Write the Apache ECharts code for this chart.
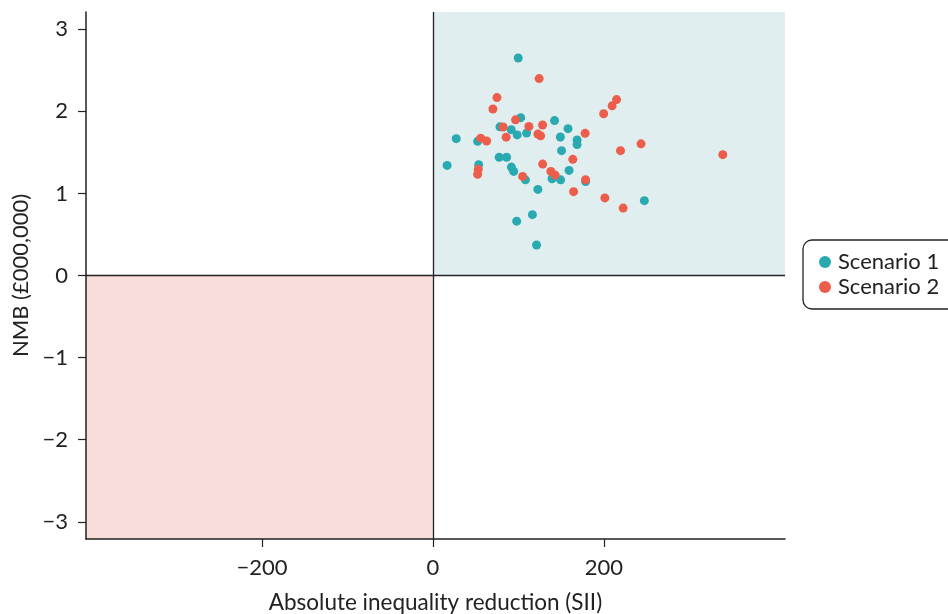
<!DOCTYPE html>
<html><head><meta charset="utf-8">
<script src="https://cdn.jsdelivr.net/npm/echarts@6/dist/echarts.min.js"></script>
<style>html,body{margin:0;padding:0;background:#fff}#c{width:948px;height:614px}</style>
</head><body><div id="c"></div>
<script>
// Scenario 1: [absolute inequality reduction (SII), NMB (£000,000)]
const scenario1 = [
 [99.8,2.65],[27.3,1.667],[16.6,1.341],[52.3,1.634],[53.5,1.35],[78.4,1.811],
 [91.6,1.777],[98.6,1.713],[102.7,1.923],[109.6,1.735],[142.3,1.887],[158.1,1.789],
 [149.1,1.687],[168.7,1.65],[168.7,1.595],[150.5,1.521],[77.5,1.441],[86.2,1.441],
 [91.8,1.321],[94.5,1.268],[108.2,1.165],[122.8,1.049],[139.4,1.179],[149.4,1.165],
 [159.3,1.28],[178.7,1.144],[116.4,0.741],[98.0,0.662],[121.3,0.372],[247.4,0.912]
];
// Scenario 2
const scenario2 = [
 [124.3,2.399],[74.9,2.167],[70.2,2.028],[96.7,1.896],[82.2,1.809],[112.3,1.815],
 [128.3,1.833],[85.7,1.685],[55.9,1.673],[62.8,1.638],[122.8,1.723],[126.0,1.701],
 [178.1,1.732],[199.8,1.970],[209.7,2.067],[214.9,2.143],[243.5,1.604],[219.5,1.521],
 [339.2,1.472],[163.7,1.415],[178.6,1.167],[164.6,1.021],[201.2,0.945],[222.6,0.821],
 [53.0,1.293],[52.3,1.232],[128.4,1.357],[138.0,1.268],[143.0,1.223],[105.0,1.207]
];
const seriesNames = ['Scenario 1','Scenario 2'];
const xRange = [-406, 412];
const yRange = [-3.21, 3.21];
const xTicks = [-200, 0, 200];
const yTicks = [-3,-2,-1,0,1,2,3];
const xTitle = 'Absolute inequality reduction (SII)';
const yTitle = 'NMB (£000,000)';

const FONT = 'Lato';
const FS = 22;
const TXT = '#222';
const minus = v => String(v).replace('-', '\u2212');

const chart = echarts.init(document.getElementById('c'), null, {renderer:'canvas'});
chart.setOption({
  animation:false,
  grid:{left:86,right:163,top:12,bottom:75,containLabel:false,outerBoundsMode:'none'},
  legend:{
    data:seriesNames, orient:'vertical', left:803, top:240,
    icon:'circle', itemWidth:12, itemHeight:12, itemGap:3,
    padding:[11,20,11,16],
    borderColor:'#222', borderWidth:1.3, borderRadius:9,
    textStyle:{fontFamily:FONT,fontSize:FS,color:TXT,padding:[0,0,0,2]}
  },
  xAxis:{
    type:'value', min:xRange[0], max:xRange[1],
    name:xTitle, nameLocation:'middle', nameGap:52,
    nameTextStyle:{fontFamily:FONT,fontSize:22.5,color:TXT},
    splitLine:{show:false},
    axisLine:{onZero:false,lineStyle:{color:'#222',width:1.5}},
    axisTick:{show:true,length:8,lineStyle:{color:'#222',width:1.2},customValues:xTicks},
    axisLabel:{fontFamily:FONT,fontSize:FS,color:TXT,margin:18,customValues:xTicks,formatter:minus}
  },
  yAxis:{
    type:'value', min:yRange[0], max:yRange[1],
    name:yTitle, nameLocation:'middle', nameGap:54,
    nameTextStyle:{fontFamily:FONT,fontSize:FS,color:TXT},
    splitLine:{show:false},
    axisLine:{show:true,onZero:false,lineStyle:{color:'#222',width:1.5}},
    axisTick:{show:true,length:8,lineStyle:{color:'#222',width:1.2},customValues:yTicks},
    axisLabel:{fontFamily:FONT,fontSize:FS,color:TXT,margin:18,customValues:yTicks,formatter:minus}
  },
  series:[
    {
      name:seriesNames[0], type:'scatter', data:scenario1, symbolSize:9,
      itemStyle:{color:'#29a9b0',opacity:1}, z:3,
      markArea:{silent:true,z:0,data:[
        [{xAxis:0,yAxis:0,itemStyle:{color:'#e0eeef'}},{xAxis:xRange[1],yAxis:yRange[1]}],
        [{xAxis:xRange[0],yAxis:yRange[0],itemStyle:{color:'#f8dddb'}},{xAxis:0,yAxis:0}]
      ]},
      markLine:{silent:true,symbol:'none',label:{show:false},
        lineStyle:{color:'#222',type:'solid',width:1.3},
        data:[{xAxis:0},{yAxis:0}]}
    },
    {
      name:seriesNames[1], type:'scatter', data:scenario2, symbolSize:9,
      itemStyle:{color:'#ec5e4b',opacity:1}, z:3
    }
  ]
});
</script></body></html>
